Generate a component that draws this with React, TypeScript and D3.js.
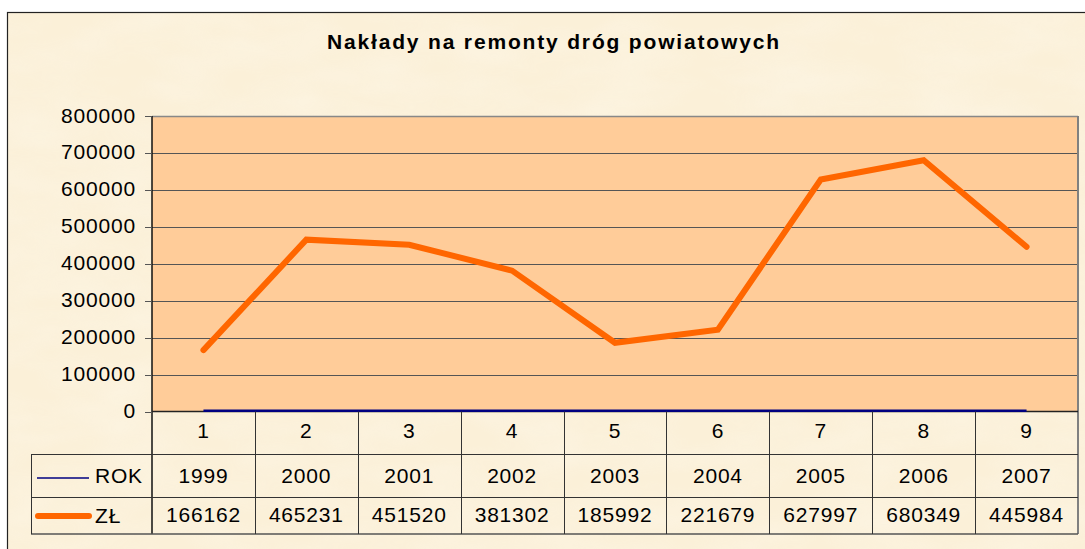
import React from "react";
import * as d3 from "d3";

const title = "Nakłady na remonty dróg powiatowych";
const categories = ["1", "2", "3", "4", "5", "6", "7", "8", "9"];
const rokValues = [1999, 2000, 2001, 2002, 2003, 2004, 2005, 2006, 2007];
const zlValues = [166162, 465231, 451520, 381302, 185992, 221679, 627997, 680349, 445984];
const yTicks = [0, 100000, 200000, 300000, 400000, 500000, 600000, 700000, 800000];

export default function App() {
  const W = 1085, H = 549;
  const left = 152, right = 1078, top = 116, bottom = 411.5;
  const tableLeft = 31, row1 = 454, row2 = 497, row3 = 534;
  const x = d3.scaleBand<string>().domain(categories).range([left, right]);
  const y = d3.scaleLinear().domain([0, 800000]).range([bottom, top]);
  const cx = (i: number) => (x(categories[i]) as number) + x.bandwidth() / 2;
  const line = d3.line<number>().x((_, i) => cx(i)).y((d) => y(d));
  const font = "Arial, 'Liberation Sans', sans-serif";
  const txt = { fontFamily: font, fontSize: 21, letterSpacing: 0.8, fill: "#000" } as const;

  return (
    <svg width={W} height={H} style={{ position: "absolute", left: 0, top: 0 }}>
      <defs>
        <filter id="paper" x="0" y="0" width="100%" height="100%">
          <feTurbulence type="fractalNoise" baseFrequency="0.012 0.03" numOctaves="3" seed="4" />
          <feColorMatrix type="matrix" values="0 0 0 0 1  0 0 0 0 0.98  0 0 0 0 0.93  0 0 0 0.9 -0.25" />
        </filter>
      </defs>
      <rect x={0} y={0} width={W} height={H} fill="#fff" />
      <rect x={7} y={12} width={W} height={H} fill="#FBF0D8" />
      <rect x={7} y={12} width={W} height={H} filter="url(#paper)" opacity={0.45} />
      <rect x={7.5} y={12.5} width={W + 5} height={H + 5} fill="none" stroke="#222" strokeWidth={1.2} />

      <text x={553} y={49} textAnchor="middle" fontFamily={font} fontWeight="bold" fontSize={21}
        textLength={452} lengthAdjust="spacing">{title}</text>

      {/* plot area */}
      <rect x={left} y={top} width={right - left} height={bottom - top} fill="#FFCC99" />
      {yTicks.filter((t) => t > 0).map((t) => (
        <line key={t} x1={left} x2={right} y1={Math.round(y(t)) + 0.5} y2={Math.round(y(t)) + 0.5}
          stroke={t === 800000 ? "#888" : "#555"} strokeWidth={t === 800000 ? 1.5 : 1} />
      ))}
      <line x1={right} x2={right} y1={top} y2={row3} stroke="#808080" strokeWidth={2} />
      <line x1={left} x2={left} y1={top} y2={row3} stroke="#111" strokeWidth={1.5} />
      {yTicks.map((t) => (
        <g key={t}>
          <line x1={left - 7} x2={left} y1={Math.round(y(t)) + 0.5} y2={Math.round(y(t)) + 0.5} stroke="#555" />
          <text x={136} y={y(t) + 6.5} textAnchor="end" {...txt}>{t}</text>
        </g>
      ))}
      <line x1={left} x2={right} y1={bottom} y2={bottom} stroke="#222" strokeWidth={1.5} />
      <path d={line(rokValues) || ""} fill="none" stroke="#000080" strokeWidth={2.5} />
      <path d={line(zlValues) || ""} fill="none" stroke="#FF6600" strokeWidth={6} strokeLinecap="round" strokeLinejoin="miter" />

      {/* data table */}
      <line x1={tableLeft} x2={right} y1={row1 + 0.5} y2={row1 + 0.5} stroke="#333" />
      <line x1={tableLeft} x2={right} y1={row2 + 0.5} y2={row2 + 0.5} stroke="#333" />
      <line x1={tableLeft} x2={right} y1={row3} y2={row3} stroke="#555" strokeWidth={1.5} />
      <line x1={tableLeft + 0.5} x2={tableLeft + 0.5} y1={row1} y2={row3} stroke="#333" />
      {categories.slice(1).map((c) => (
        <line key={c} x1={Math.round(x(c) as number) + 0.5} x2={Math.round(x(c) as number) + 0.5}
          y1={bottom} y2={row3} stroke="#333" />
      ))}
      {categories.map((c, i) => (
        <g key={c}>
          <text x={cx(i)} y={438} textAnchor="middle" {...txt}>{c}</text>
          <text x={cx(i)} y={483} textAnchor="middle" {...txt}>{rokValues[i]}</text>
          <text x={cx(i)} y={522} textAnchor="middle" {...txt}>{zlValues[i]}</text>
        </g>
      ))}
      <line x1={37} x2={89} y1={478} y2={478} stroke="#000080" strokeWidth={1.5} />
      <text x={95} y={483} {...txt}>ROK</text>
      <line x1={38} x2={89} y1={516} y2={516} stroke="#FF6600" strokeWidth={6} strokeLinecap="round" />
      <text x={95} y={523} {...txt}>ZŁ</text>
    </svg>
  );
}
